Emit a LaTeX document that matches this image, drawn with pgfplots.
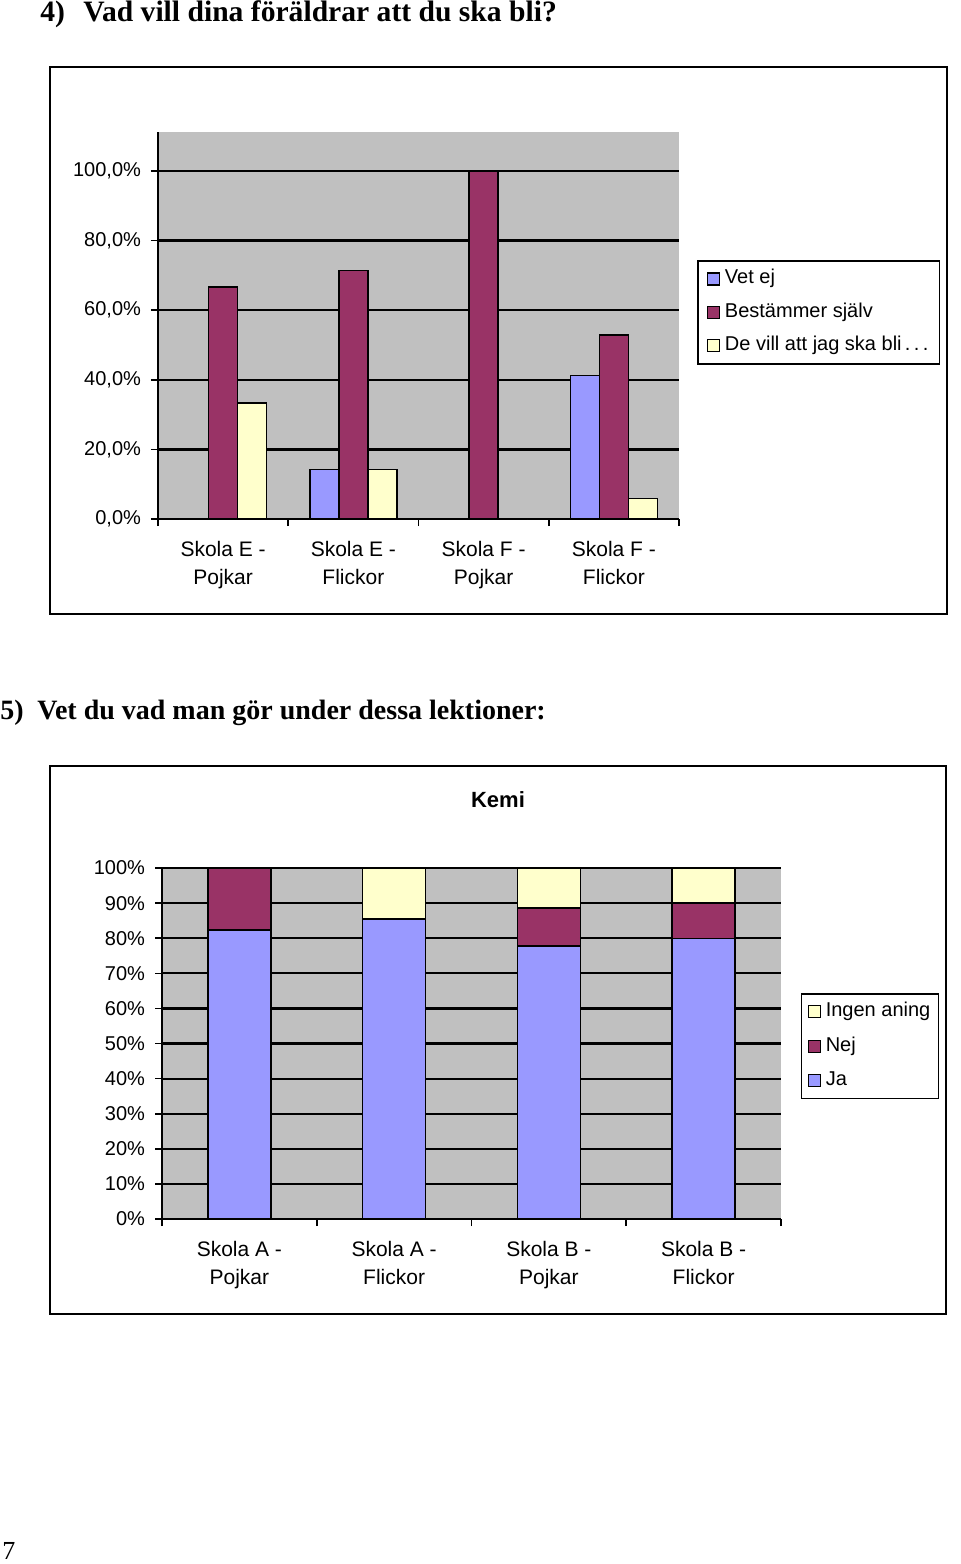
\documentclass[border=0pt]{standalone}
\usepackage{fontspec}
\setmainfont{Liberation Serif}
\newfontfamily\arial{Liberation Sans}
\usepackage{pgfplots}
\pgfplotsset{compat=1.18}

\definecolor{vetej}{HTML}{9999FF}
\definecolor{best}{HTML}{993366}
\definecolor{devill}{HTML}{FFFFCC}
\definecolor{plotbg}{HTML}{C0C0C0}

\pgfplotsset{excel/.style={
  scale only axis,
  axis background/.style={fill=plotbg},
  axis x line*=bottom, axis y line*=left,
  axis line style={black, line width=0.8pt, -},
  ymajorgrids, grid style={black, line width=1.1pt},
  tick style={black, line width=0.8pt},
  tick align=outside,
  major tick length=3.5pt,
  minor tick length=3.5pt,
  xmin=-0.5, xmax=3.5,
  xtick={0,1,2,3},
  minor xtick={-0.5,0.5,1.5,2.5,3.5},
  major x tick style={draw=none},
  ticklabel style={font=\arial\fontsize{10}{14}\selectfont},
  x tick label style={align=center, yshift=-4pt, font=\arial\fontsize{10.5}{14}\selectfont},
  y tick label style={xshift=-1.5pt},
  legend cell align=left,
  legend style={draw=black, line width=0.8pt, fill=white,
    font=\arial\fontsize{10}{12}\selectfont, anchor=north west,
    row sep=4.7pt, inner xsep=4.5pt, inner ysep=3pt,
    /tikz/every odd column/.append style={column sep=1.5pt},
    nodes={inner sep=1pt, text height=7.5pt, text depth=2.5pt}},
},
exbar/.style={draw=black, line width=0.7pt, fill=#1,
  legend image code/.code={\draw[fill=#1, draw=black, line width=0.6pt] (0pt,-3pt) rectangle (6pt,3pt);}},
}

\begin{document}
\begin{tikzpicture}
\path[use as bounding box] (0pt,0pt) rectangle (480pt,-782pt);

% headings
\node[anchor=base west, inner sep=0pt, font=\bfseries\fontsize{14.8}{16}\selectfont] at (20pt,-10.5pt) {4)};
\node[anchor=base west, inner sep=0pt, font=\bfseries\fontsize{14.8}{16}\selectfont] at (41.5pt,-10.5pt) {Vad vill dina föräldrar att du ska bli?};
\node[anchor=base west, inner sep=0pt, font=\bfseries\fontsize{14}{16}\selectfont] at (0pt,-359.5pt) {5)};
\node[anchor=base west, inner sep=0pt, font=\bfseries\fontsize{14}{16}\selectfont] at (18.5pt,-359.5pt) {Vet du vad man gör under dessa lektioner:};
\node[anchor=base west, inner sep=0pt, font=\fontsize{13}{15}\selectfont] at (1pt,-779.5pt) {7};

% chart frames
\draw[line width=0.8pt] (25pt,-33.5pt) rectangle (473.5pt,-307pt);
\draw[line width=0.8pt] (25pt,-383pt) rectangle (473pt,-657pt);

% ---------- Chart 1 ----------
\begin{axis}[excel,
  at={(79pt,-259.5pt)}, anchor=south west,
  width=260.5pt, height=193.5pt,
  ymin=0, ymax=111.2,
  ytick={0,20,40,60,80,100},
  yticklabels={{0,0\%},{20,0\%},{40,0\%},{60,0\%},{80,0\%},{100,0\%}},
  xticklabels={{Skola E -\\Pojkar},{Skola E -\\Flickor},{Skola F -\\Pojkar},{Skola F -\\Flickor}},
  ybar=0pt, bar width=14.5pt,
  legend style={at={(1.0345,0.669)}},
]
\addplot[exbar=vetej] coordinates {(0,0) (1,14.3) (2,0) (3,41.2)};
\addlegendentry{Vet ej}
\addplot[exbar=best] coordinates {(0,66.7) (1,71.4) (2,100) (3,52.9)};
\addlegendentry{Bestämmer själv}
\addplot[exbar=devill] coordinates {(0,33.3) (1,14.3) (2,0) (3,5.9)};
\addlegendentry{De vill att jag ska bli\,.\,.\,.}
\end{axis}

% ---------- Chart 2 ----------
\node[font=\arial\bfseries\fontsize{11}{13}\selectfont] at (249pt,-400pt) {Kemi};
\begin{axis}[excel,
  at={(81pt,-609.5pt)}, anchor=south west,
  width=309.5pt, height=175.5pt,
  ymin=0, ymax=100,
  ytick={0,10,20,30,40,50,60,70,80,90,100},
  yticklabels={{0\%},{10\%},{20\%},{30\%},{40\%},{50\%},{60\%},{70\%},{80\%},{90\%},{100\%}},
  xticklabels={{Skola A -\\Pojkar},{Skola A -\\Flickor},{Skola B -\\Pojkar},{Skola B -\\Flickor}},
  ybar stacked, bar width=31.5pt,
  reverse legend,
  legend style={at={(1.032,0.644)}, row sep=5.2pt, inner xsep=3pt},
]
\addplot[exbar=vetej] coordinates {(0,82.3) (1,85.5) (2,77.8) (3,80)};
\addlegendentry{Ja}
\addplot[exbar=best] coordinates {(0,17.7) (1,0) (2,10.8) (3,10)};
\addlegendentry{Nej}
\addplot[exbar=devill] coordinates {(0,0) (1,14.5) (2,11.4) (3,10)};
\addlegendentry{Ingen aning}
\end{axis}
\end{tikzpicture}
\end{document}
